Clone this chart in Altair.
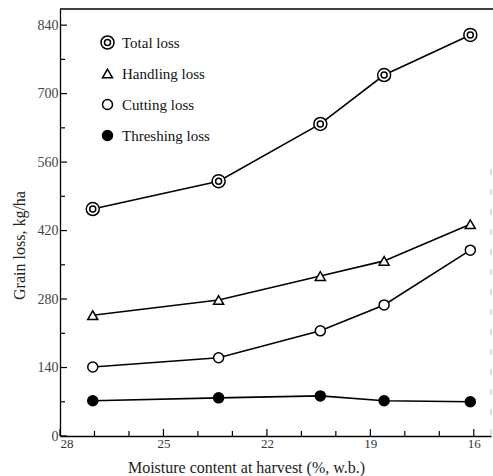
import altair as alt
import pandas as pd

# ---- data ----
series = ["Total loss", "Handling loss", "Cutting loss", "Threshing loss"]
moisture = [27.05, 23.4, 20.45, 18.6, 16.1]
total_loss = [464, 521, 638, 738, 820]
handling_loss = [247, 278, 327, 358, 433]
cutting_loss = [141, 160, 215, 268, 380]
threshing_loss = [72, 78, 82, 72, 70]

x_major = [28, 25, 22, 19, 16]
x_minor = [27, 26, 24, 23, 21, 20, 18, 17]
y_major = [0, 140, 280, 420, 560, 700, 840]
y_minor = [70, 210, 350, 490, 630, 770]

rows = []
for name, vals in zip(series, [total_loss, handling_loss, cutting_loss, threshing_loss]):
    for m, v in zip(moisture, vals):
        rows.append({"series": name, "moisture": m, "loss": v})
df = pd.DataFrame(rows)

W, H = 431, 427
SERIF = "Liberation Serif"
DOUBLE_CIRCLE = ("M -1.3,0 A 1.3,1.3 0 1,1 1.3,0 A 1.3,1.3 0 1,1 -1.3,0 Z "
                 "M -0.6,0 A 0.6,0.6 0 1,1 0.6,0 A 0.6,0.6 0 1,1 -0.6,0 Z")

xs = alt.Scale(domain=[15.5, 28], reverse=True, nice=False, zero=False)
ys = alt.Scale(domain=[0, 873], nice=False, zero=True)

x_axis = alt.Axis(values=x_major, format="d", ticks=False, grid=False,
                  domainColor="black", domainWidth=1.3, labelFont=SERIF,
                  labelFontSize=13, labelColor="#333", labelPadding=1,
                  title="Moisture content at harvest (%, w.b.)",
                  titleFont=SERIF, titleFontSize=16, titleFontWeight="normal",
                  titleColor="#222", titlePadding=9, titleX=186)
y_axis = alt.Axis(values=y_major, format="d", ticks=False, grid=False,
                  domainColor="black", domainWidth=1.3, labelFont=SERIF,
                  labelFontSize=14, labelColor="#444", labelPadding=2,
                  title="Grain loss, kg/ha", titleFont=SERIF, titleFontSize=16,
                  titleFontWeight="normal", titleColor="#222", titlePadding=10,
                  titleY=236)


def make_legend():
    return alt.Legend(orient="none", legendX=40, legendY=26,
                      title=None, labelFont=SERIF, labelFontSize=15,
                      labelColor="#111", labelOffset=7,
                      rowPadding=14, symbolSize=100,
                      symbolStrokeWidth=1.5, symbolOpacity=1)


base = alt.Chart(df)

lines = base.mark_line(color="black", strokeWidth=1.6).encode(
    x=alt.X("moisture:Q", scale=xs, axis=x_axis),
    y=alt.Y("loss:Q", scale=ys, axis=y_axis),
    detail="series:N",
)

points = base.mark_point(filled=False, strokeWidth=1.5, size=100, opacity=1).encode(
    x=alt.X("moisture:Q", scale=xs),
    y=alt.Y("loss:Q", scale=ys),
    shape=alt.Shape("series:N",
                    scale=alt.Scale(domain=series,
                                    range=[DOUBLE_CIRCLE, "triangle-up", "circle", "circle"]),
                    legend=make_legend()),
    fill=alt.Fill("series:N",
                  scale=alt.Scale(domain=series, range=["white", "white", "white", "black"]),
                  legend=make_legend()),
    stroke=alt.Stroke("series:N",
                      scale=alt.Scale(domain=series, range=["black", "black", "black", "black"]),
                      legend=make_legend()),
)

ymaj = alt.Chart(pd.DataFrame({"v": y_major})).mark_rule(color="black", strokeWidth=1.2).encode(
    y=alt.Y("v:Q", scale=ys), x=alt.value(0), x2=alt.value(7))
ymin = alt.Chart(pd.DataFrame({"v": y_minor})).mark_rule(color="black", strokeWidth=1.2).encode(
    y=alt.Y("v:Q", scale=ys), x=alt.value(0), x2=alt.value(5))
xmaj = alt.Chart(pd.DataFrame({"v": x_major})).mark_rule(color="black", strokeWidth=1.2).encode(
    x=alt.X("v:Q", scale=xs), y=alt.value(H), y2=alt.value(H - 7))
xmin = alt.Chart(pd.DataFrame({"v": x_minor})).mark_rule(color="black", strokeWidth=1.2).encode(
    x=alt.X("v:Q", scale=xs), y=alt.value(H), y2=alt.value(H - 5))

top = alt.Chart(pd.DataFrame({"v": [0]})).mark_rule(color="black", strokeWidth=1.3).encode(
    x=alt.value(0), x2=alt.value(W + 2), y=alt.value(0))
right = alt.Chart(pd.DataFrame({"v": [0]})).mark_rule(color="#bbb", strokeWidth=1,
                                                      strokeDash=[6, 14]).encode(
    x=alt.value(W), y=alt.value(160), y2=alt.value(H))

chart = alt.layer(lines, ymaj, ymin, xmaj, xmin, top, right, points).properties(
    width=W, height=H, autosize="none",
    padding={"left": 60, "top": 9, "right": 2, "bottom": 40},
).configure_view(stroke=None).resolve_scale(x="shared", y="shared")

chart.save("out.html", embed_options={"renderer": "svg", "actions": False})
